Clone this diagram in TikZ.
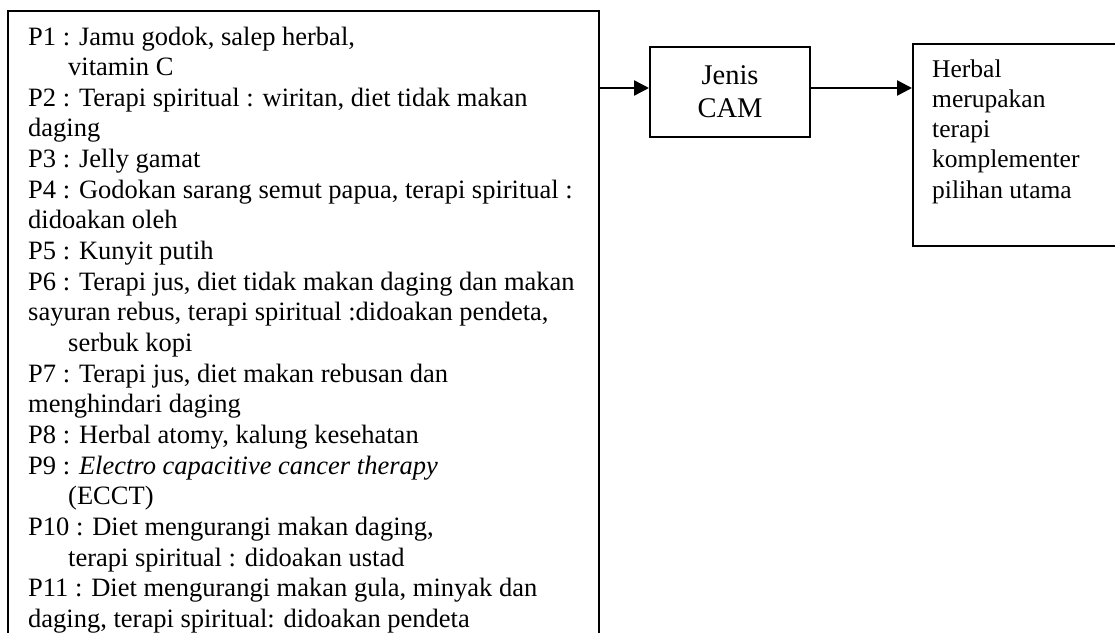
\documentclass[tikz,border=0pt]{standalone}
\usepackage{fontspec}
\setmainfont{Liberation Serif}
\usetikzlibrary{arrows.meta}
\begin{document}
\begin{tikzpicture}[x=1pt,y=-1pt,
  boxline/.style={draw=black,line width=2pt},
  conn/.style={line width=2.6pt,-{Triangle[length=15pt,width=15pt]}},
  txt/.style={inner sep=0pt,anchor=base west,align=left}]
\useasboundingbox (0,0) rectangle (1115,632);
\clip (0,0) rectangle (1115,632);
\newcommand{\ind}{\hspace*{40pt}}
% left box
\node[boxline,rectangle,minimum width=591pt,minimum height=660pt,anchor=north west,inner sep=0pt] (list) at (7,10) {};
\node[txt] (listtext) at (28,45) {\parbox[t]{568pt}{\fontsize{26.5}{30.65}\selectfont\raggedright
P1 : Jamu godok, salep herbal,\\
\ind vitamin C\\
P2 : Terapi spiritual : wiritan, diet tidak makan\\
daging\\
P3 : Jelly gamat\\
P4 : Godokan sarang semut papua, terapi spiritual :\\
didoakan oleh\\
P5 : Kunyit putih\\
P6 : Terapi jus, diet tidak makan daging dan makan\\
sayuran rebus, terapi spiritual :didoakan pendeta,\\
\ind serbuk kopi\\
P7 : Terapi jus, diet makan rebusan dan\\
menghindari daging\\
P8 : Herbal atomy, kalung kesehatan\\
P9 : \textit{Electro capacitive cancer therapy}\\
\ind (ECCT)\\
P10 : Diet mengurangi makan daging,\\
\ind terapi spiritual : didoakan ustad\\
P11 : Diet mengurangi makan gula, minyak dan\\
daging, terapi spiritual: didoakan pendeta}};
% CAM box
\node[boxline,rectangle,minimum width=160pt,minimum height=90pt,inner sep=0pt,align=center,
  font=\fontsize{28.5}{33}\selectfont] (cam) at (730,92) {Jenis\\CAM};
% right box
\node[boxline,rectangle,minimum width=214pt,minimum height=202pt,anchor=north west,inner sep=0pt] (res) at (912,43) {};
\node[txt] (restext) at (932,77) {\parbox[t]{180pt}{\fontsize{25.5}{30.25}\selectfont\raggedright
Herbal\\merupakan\\terapi\\komplementer\\pilihan utama}};
% arrows
\coordinate (a1) at (list.east |- 0,88);
\coordinate (a2) at (cam.west |- 0,88);
\coordinate (a3) at (cam.east |- 0,88);
\coordinate (a4) at (res.west |- 0,88);
\draw[conn] (a1) -- (a2);
\draw[conn] (a3) -- (a4);
\end{tikzpicture}
\end{document}
